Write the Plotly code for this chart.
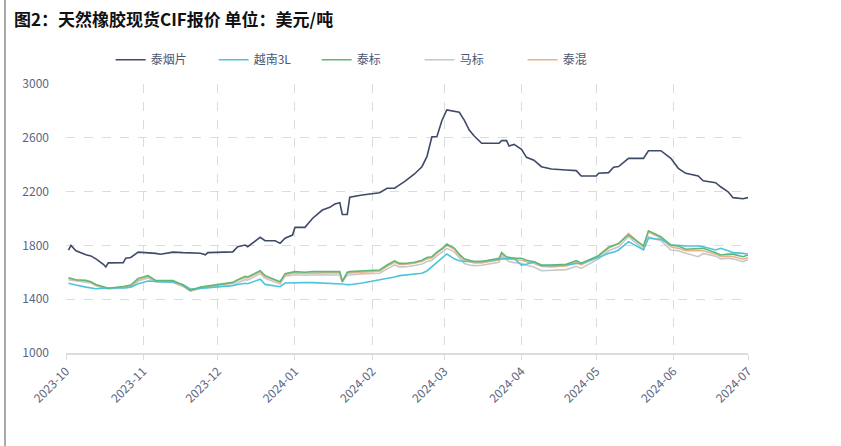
import plotly.graph_objects as go

dates = ["2023-10-02","2023-10-03","2023-10-05","2023-10-09","2023-10-11","2023-10-13","2023-10-16","2023-10-17","2023-10-18","2023-10-24",
         "2023-10-25","2023-10-27","2023-10-30","2023-11-03","2023-11-06","2023-11-08","2023-11-13","2023-11-17","2023-11-20","2023-11-24",
         "2023-11-26","2023-11-27","2023-12-07","2023-12-09","2023-12-12","2023-12-13","2023-12-18","2023-12-20","2023-12-24","2023-12-26",
         "2023-12-28","2023-12-31","2024-01-01","2024-01-05","2024-01-08","2024-01-12","2024-01-15","2024-01-17","2024-01-19","2024-01-20",
         "2024-01-22","2024-01-23","2024-01-28","2024-02-04","2024-02-07","2024-02-10","2024-02-12","2024-02-14","2024-02-18","2024-02-21",
         "2024-02-23","2024-02-25","2024-02-27","2024-02-29","2024-03-02","2024-03-05","2024-03-07","2024-03-09","2024-03-11","2024-03-13",
         "2024-03-16","2024-03-23","2024-03-24","2024-03-26","2024-03-27","2024-03-29","2024-04-01","2024-04-03","2024-04-06","2024-04-09",
         "2024-04-13","2024-04-19","2024-04-23","2024-04-25","2024-05-01","2024-05-02","2024-05-06","2024-05-08","2024-05-10","2024-05-14",
         "2024-05-20","2024-05-22","2024-05-27","2024-05-31","2024-06-03","2024-06-06","2024-06-11","2024-06-13","2024-06-18","2024-06-20",
         "2024-06-23","2024-06-25","2024-06-29","2024-07-01"]

thai_rss = [1765,1800,1760,1730,1722,1700,1660,1640,1670,1672,
            1705,1710,1750,1748,1741,1734,1750,1746,1744,1742,
            1730,1746,1752,1790,1803,1790,1860,1835,1835,1815,
            1853,1877,1934,1934,2000,2063,2083,2108,2118,2030,
            2030,2158,2175,2192,2225,2225,2250,2274,2331,2385,
            2460,2608,2608,2727,2807,2794,2790,2732,2658,2613,
            2559,2559,2579,2579,2539,2551,2514,2455,2433,2385,
            2368,2361,2356,2316,2316,2336,2341,2381,2386,2447,
            2447,2504,2504,2447,2373,2336,2316,2281,2266,2236,
            2199,2155,2147,2155]

vn_3l = [1518,1515,1505,1490,1482,1478,1482,1482,1480,1482,
         1485,1490,1515,1535,1530,1530,1528,1510,1475,1482,
         1485,1485,1500,1510,1518,1515,1548,1510,1500,1493,
         1520,1523,1520,1523,1523,1520,1520,1518,1518,1513,
         1508,1508,1520,1543,1555,1565,1575,1580,1585,1593,
         1610,1642,1670,1700,1736,1700,1686,1680,1680,1680,
         1680,1697,1700,1700,1700,1704,1654,1660,1679,1650,
         1650,1655,1665,1665,1704,1710,1741,1750,1766,1828,
         1766,1853,1845,1803,1800,1796,1795,1790,1766,1778,
         1760,1746,1741,1736]

thai_str = [1560,1555,1545,1540,1530,1510,1490,1486,1482,1495,
            1500,1505,1555,1575,1540,1540,1538,1505,1465,1490,
            1495,1495,1525,1545,1570,1565,1612,1575,1545,1530,
            1590,1600,1605,1600,1605,1605,1605,1605,1605,1530,
            1600,1605,1610,1617,1654,1685,1666,1666,1675,1690,
            1710,1716,1750,1775,1810,1780,1735,1700,1690,1680,
            1680,1704,1746,1715,1711,1705,1704,1690,1679,1654,
            1654,1660,1686,1668,1716,1725,1786,1800,1815,1878,
            1796,1909,1865,1803,1795,1771,1778,1778,1746,1729,
            1735,1735,1716,1729]

my_smr = [1545,1542,1535,1528,1520,1500,1485,1480,1478,1482,
          1486,1490,1535,1558,1528,1528,1525,1495,1460,1480,
          1484,1484,1505,1522,1545,1542,1590,1555,1525,1512,
          1570,1580,1582,1578,1582,1582,1580,1580,1580,1528,
          1578,1580,1588,1593,1625,1655,1640,1640,1650,1662,
          1680,1690,1722,1750,1778,1752,1705,1665,1654,1650,
          1652,1675,1721,1690,1680,1672,1667,1652,1640,1612,
          1615,1620,1645,1629,1691,1700,1760,1775,1790,1865,
          1770,1865,1835,1766,1760,1741,1716,1740,1720,1700,
          1705,1700,1679,1695]

thai_mix = [1555,1550,1540,1535,1525,1505,1485,1480,1478,1488,
            1492,1498,1545,1568,1535,1535,1532,1500,1462,1485,
            1490,1490,1520,1540,1562,1558,1605,1568,1540,1525,
            1580,1592,1596,1592,1596,1596,1596,1596,1596,1535,
            1592,1596,1602,1608,1645,1675,1658,1658,1668,1682,
            1700,1708,1742,1768,1800,1772,1725,1690,1678,1670,
            1670,1692,1735,1705,1700,1695,1690,1678,1665,1645,
            1640,1648,1672,1656,1708,1718,1780,1795,1812,1890,
            1790,1900,1855,1790,1778,1760,1762,1760,1735,1718,
            1720,1718,1697,1708]

series_names = ["泰烟片", "越南3L", "泰标", "马标", "泰混"]
series_values = [thai_rss, vn_3l, thai_str, my_smr, thai_mix]
colors = ["#3E4A68", "#4DC4DD", "#5DB97B", "#C8C8C8", "#EEB388"]
draw_order = [3, 4, 1, 2, 0]

y_ticks = [1000, 1400, 1800, 2200, 2600, 3000]

fig = go.Figure()
for i in draw_order:
    fig.add_trace(go.Scatter(
        x=dates, y=series_values[i], mode="lines", name=series_names[i],
        line=dict(color=colors[i], width=1.6), legendrank=i + 1,
    ))

tick_font = dict(family="Noto Sans CJK SC, Noto Sans, sans-serif", size=12, color="#5A6682")

fig.update_layout(
    width=841, height=446,
    margin=dict(l=66, r=93, t=84, b=93),
    paper_bgcolor="white", plot_bgcolor="white",
    showlegend=True,
    legend=dict(orientation="h", x=0.443, xanchor="center", y=1.09, yanchor="middle",
                font=dict(family="Noto Sans CJK SC, sans-serif", size=12, color="#4A5675"),
                entrywidth=58, itemwidth=30, traceorder="normal"),
    annotations=[dict(text="<b>图2：天然橡胶现货CIF报价 单位：美元/吨</b>", xref="paper", yref="paper",
                      x=(12 - 66) / 682, y=(353 - 18) / 269, xanchor="left", yanchor="middle",
                      showarrow=False,
                      font=dict(family="Noto Sans CJK SC, sans-serif", size=17, color="#111111"))],
    shapes=[dict(type="line", xref="paper", yref="paper",
                 x0=(5 - 66) / 682, x1=(5 - 66) / 682, y0=(353 - 446) / 269, y1=353 / 269,
                 line=dict(color="#8C8C8C", width=1.5))],
)

fig.update_xaxes(
    type="date", range=["2023-10-01", "2024-07-01"], dtick="M1", tick0="2023-10-01",
    tickformat="%Y-%m", tickangle=-45, tickfont=tick_font,
    showgrid=True, gridcolor="#DCDCDC", griddash="dash", gridwidth=1,
    showline=True, linecolor="#DCDCDC", linewidth=1.5,
    ticks="outside", ticklen=5, tickcolor="#DCDCDC", zeroline=False,
)
fig.update_yaxes(
    range=[1000, 3000], tickvals=y_ticks, tickfont=tick_font,
    showgrid=True, gridcolor="#DCDCDC", griddash="dash", gridwidth=1,
    showline=False, zeroline=False, ticklabelstandoff=16,
)

fig.write_html("out.html")
